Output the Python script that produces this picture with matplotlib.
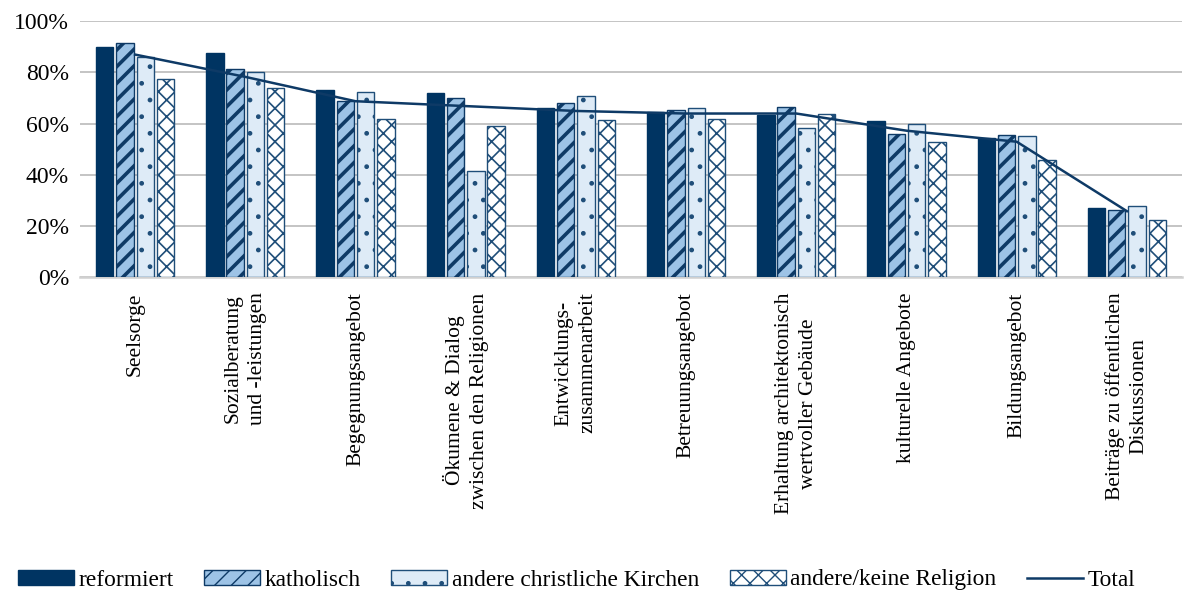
import matplotlib
matplotlib.use("Agg")
import matplotlib.pyplot as plt
import matplotlib.patches as mpatches
import matplotlib.lines as mlines
import numpy as np
from matplotlib.ticker import PercentFormatter

categories = ["Seelsorge", "Sozialberatung\nund -leistungen", "Begegnungsangebot",
              "Ökumene & Dialog\nzwischen den Religionen", "Entwicklungs-\nzusammenarbeit",
              "Betreuungsangebot", "Erhaltung architektonisch\nwertvoller Gebäude",
              "kulturelle Angebote", "Bildungsangebot",
              "Beiträge zu öffentlichen\nDiskussionen"]
reformiert = [89.9, 87.7, 73.0, 72.1, 65.9, 64.3, 63.2, 60.9, 54.4, 26.9]
katholisch = [91.4, 81.2, 68.8, 69.8, 68.2, 65.2, 66.5, 56.0, 55.7, 26.2]
andere_christlich = [86.0, 80.1, 72.3, 41.5, 70.8, 66.1, 58.3, 59.9, 55.2, 27.8]
andere_keine = [77.2, 73.7, 61.6, 59.0, 61.3, 61.6, 63.8, 52.8, 45.6, 22.3]
total = [86.9, 78.2, 68.7, 66.8, 64.9, 63.9, 63.9, 57.2, 52.9, 25.8]
series_names = ["reformiert", "katholisch", "andere christliche Kirchen", "andere/keine Religion"]
yticks = [0, 20, 40, 60, 80, 100]

plt.rcParams['font.family'] = ['Liberation Serif', 'DejaVu Serif']

navy = '#003462'
styles = [
    dict(facecolor=navy, edgecolor=navy, hatch=None, hlw=1.0),
    dict(facecolor='#9DC3E6', edgecolor='#0E3A66', hatch='//', hlw=2.6),
    dict(facecolor='#DEEBF7', edgecolor='#1F4E79', hatch='.', hlw=1.0),
    dict(facecolor='white', edgecolor='#1F4E79', hatch='xx', hlw=1.2),
]

fig = plt.figure(figsize=(11.84, 5.92), dpi=100)
ax = fig.add_axes([80/1184, 1-277.3/592, (1182-80)/1184, 256.3/592])

x = np.arange(len(categories))
pitch = 0.184
width = 0.158
data = [reformiert, katholisch, andere_christlich, andere_keine]
handles = []
for i, (vals, st, name) in enumerate(zip(data, styles, series_names)):
    with plt.rc_context({'hatch.linewidth': st['hlw']}):
        bars = ax.bar(x + (i - 1.5) * pitch, vals, width=width, facecolor=st['facecolor'],
                      edgecolor=st['edgecolor'], hatch=st['hatch'], linewidth=1.0, zorder=3)
        for b in bars:
            if hasattr(b, 'set_hatch_linewidth'):
                b.set_hatch_linewidth(st['hlw'])
        h = mpatches.Patch(facecolor=st['facecolor'], edgecolor=st['edgecolor'],
                           hatch=st['hatch'], linewidth=1.0, label=name)
        if hasattr(h, 'set_hatch_linewidth'):
            h.set_hatch_linewidth(st['hlw'])
    handles.append(h)

ax.plot(x, total, color='#0E3A66', linewidth=1.8, zorder=4, label='Total')
handles.append(mlines.Line2D([], [], color='#0E3A66', linewidth=1.8, label='Total'))

ax.set_xlim(-0.5, len(categories) - 0.5)
ax.set_ylim(0, 100)
ax.set_yticks(yticks)
ax.yaxis.set_major_formatter(PercentFormatter(decimals=0))
ax.set_xticks(x)
ax.set_xticklabels(categories, rotation=90, va='top', ha='center', multialignment='center',
                   fontsize=15.5, linespacing=1.35)
ax.tick_params(axis='x', length=0, pad=11)
ax.tick_params(axis='y', length=0, pad=8, labelsize=17)
ax.grid(axis='y', color='#BFBFBF', linewidth=1.3, zorder=0)
ax.set_axisbelow(True)
for s in ['top', 'right', 'left']:
    ax.spines[s].set_visible(False)
ax.spines['bottom'].set_color('#D0D0D0')
ax.spines['bottom'].set_linewidth(1.8)
ax.spines['bottom'].set_zorder(2)

fig.legend(handles=handles, loc='center', bbox_to_anchor=(576.5/1184, 1-580/592), ncol=5,
           frameon=False, fontsize=16.8, handlelength=2.4, handleheight=0.65,
           handletextpad=0.2, columnspacing=1.3)

fig.savefig('out.png', dpi=100)
